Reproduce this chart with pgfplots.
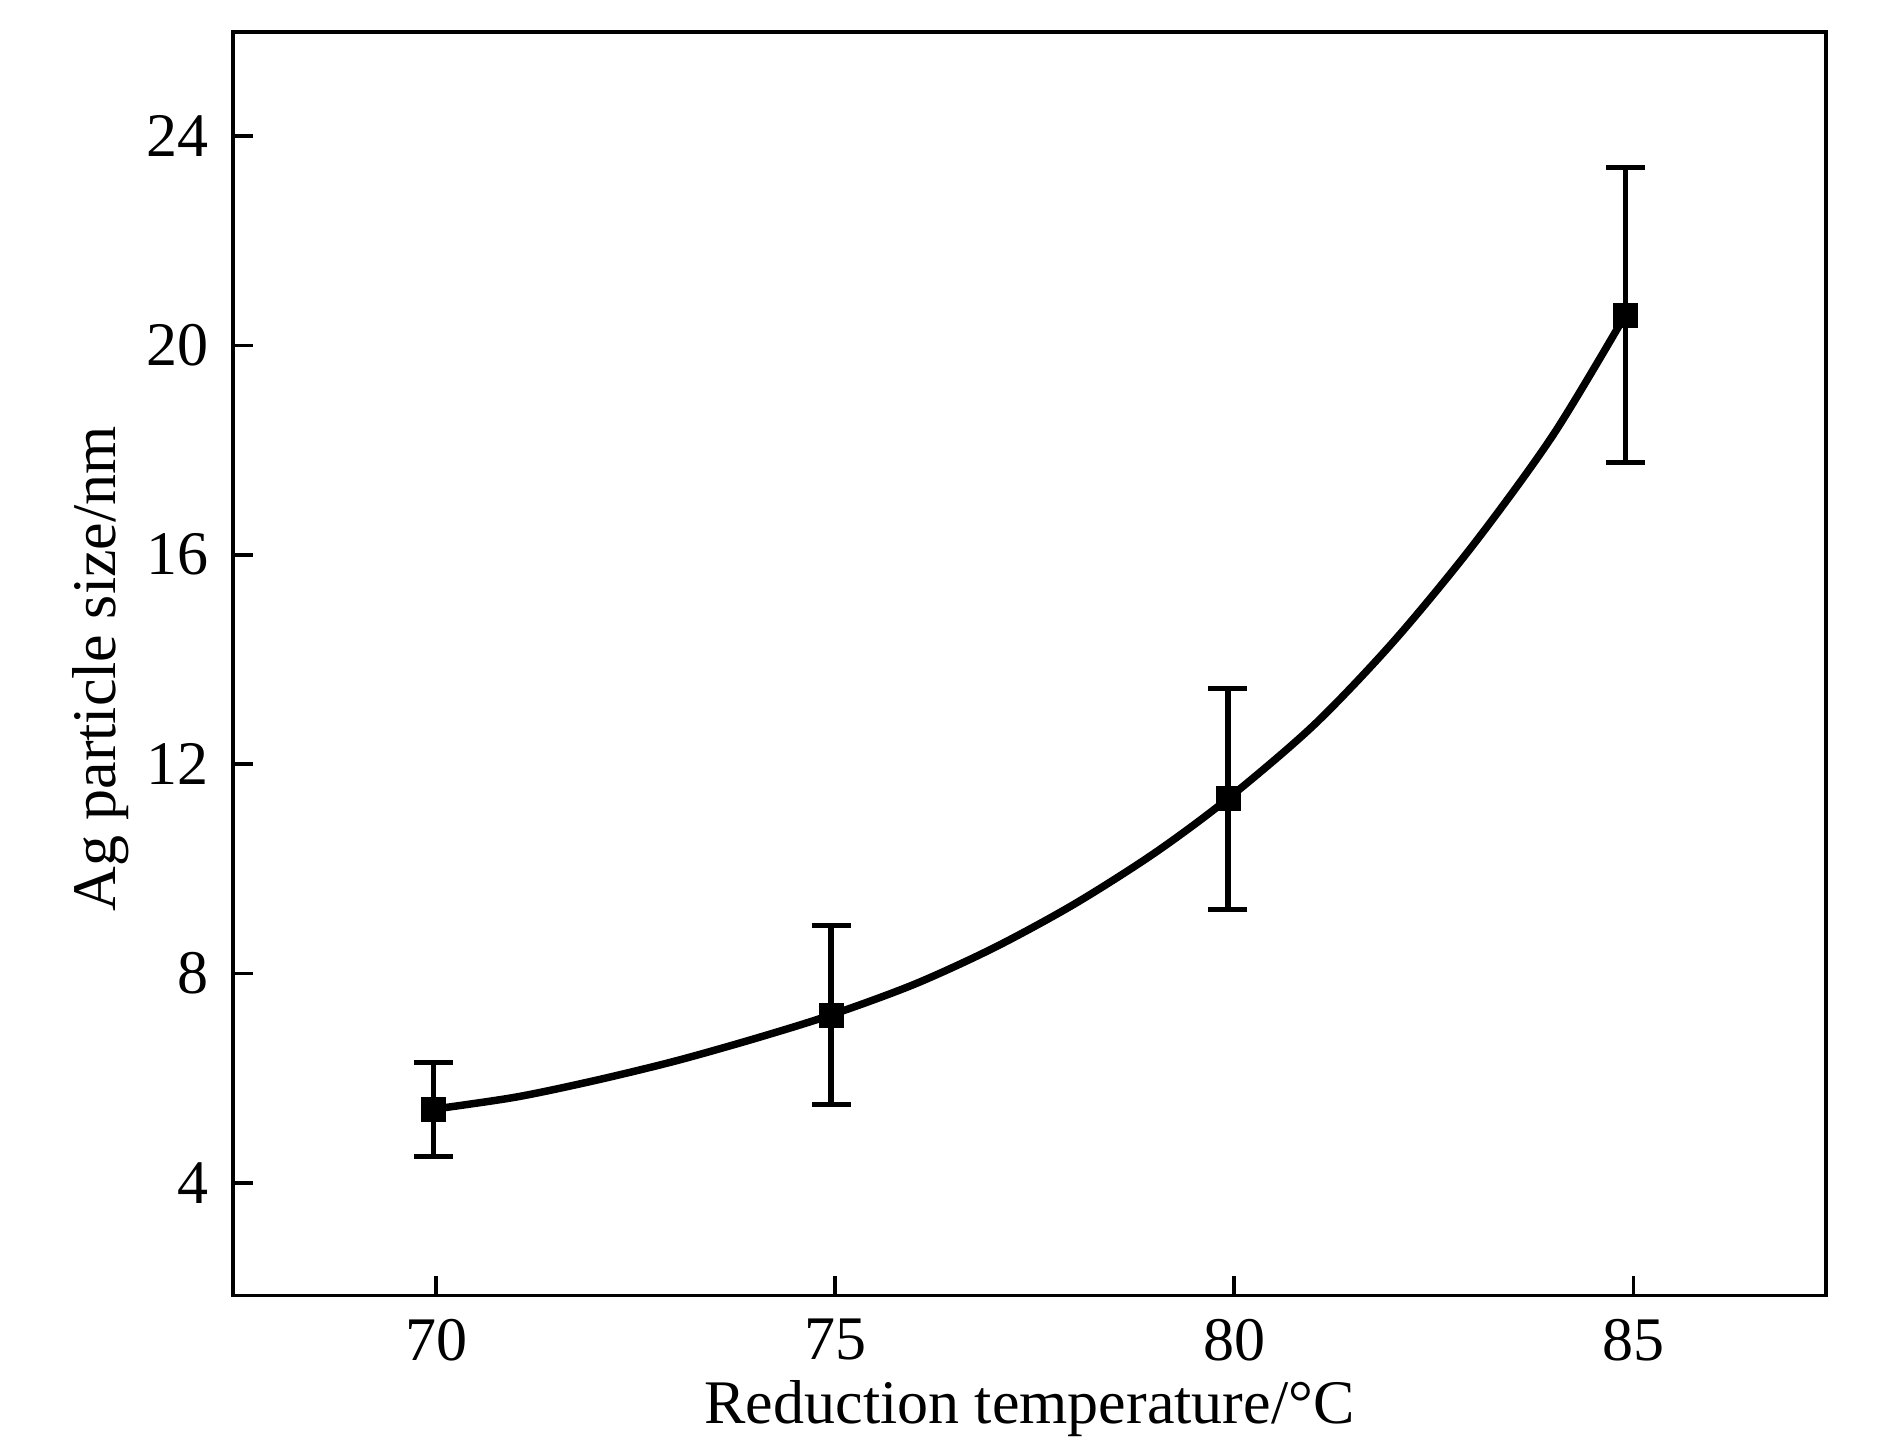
\documentclass[border=0pt]{standalone}
\usepackage{fontspec}
\setmainfont{Liberation Serif}
\usepackage{pgfplots}
\pgfplotsset{compat=1.18}
\begin{document}
\begin{tikzpicture}
\begin{axis}[
  scale only axis,
  width=318.48pt, height=252.64pt,
  xmin=67.46, xmax=87.41,
  ymin=1.85, ymax=25.98,
  xtick={70,75,80,85},
  ytick={4,8,12,16,20,24},
  tick align=inside,
  xtick pos=bottom, ytick pos=left,
  major tick length=4pt,
  every tick/.style={line width=0.7pt, black},
  axis line style={line width=0.75pt},
  /pgf/number format/assume math mode=true,
  font=\fontsize{12.4}{14}\selectfont,
  tick label style={font=\fontsize{12.4}{14}\selectfont},
  xticklabel style={inner sep=0pt, anchor=north, yshift=-4.5pt},
  yticklabel style={inner sep=0pt, anchor=east, xshift=-4.66pt},
  xlabel={Reduction temperature/°C},
  ylabel={Ag particle size/nm},
  xlabel style={at={(axis description cs:0.5,-0.1012)}, anchor=base, inner sep=0pt},
  ylabel style={at={(axis description cs:-0.0647,0.496)}, anchor=south, rotate=0, inner sep=0pt},
]
% fitted curve
\addplot[black, line width=1.5pt, smooth, no markers] coordinates {
  (69.97,5.41) (71,5.64) (72,5.96) (73,6.33) (74,6.76) (74.95,7.21)
  (76,7.80) (77,8.50) (78,9.33) (79,10.30) (79.92,11.34)
  (81,12.75) (82,14.35) (83,16.20) (84,18.30) (84.9,20.58)
};
% data points with error bars
\addplot[black, only marks, mark=square*, mark size=2.4pt,
  mark options={line width=0.1pt},
  error bars/.cd, y dir=both, y explicit,
  error bar style={line width=1.1pt},
  error mark=|,
  error mark options={mark size=3.9pt, line width=1pt}]
  coordinates {
  (69.97,5.41) +- (0,0.89) -= (0,0.91)
  (74.95,7.21) +- (0,1.71) -= (0,1.71)
  (79.92,11.34) +- (0,2.10) -= (0,2.12)
  (84.90,20.58) +- (0,2.81) -= (0,2.81)
};
\end{axis}
\pgfresetboundingbox
\path ([shift={(-46.66pt,-28.1pt)}]current axis.south west) rectangle ([shift={(12.86pt,6.46pt)}]current axis.north east);
\end{tikzpicture}
\end{document}
